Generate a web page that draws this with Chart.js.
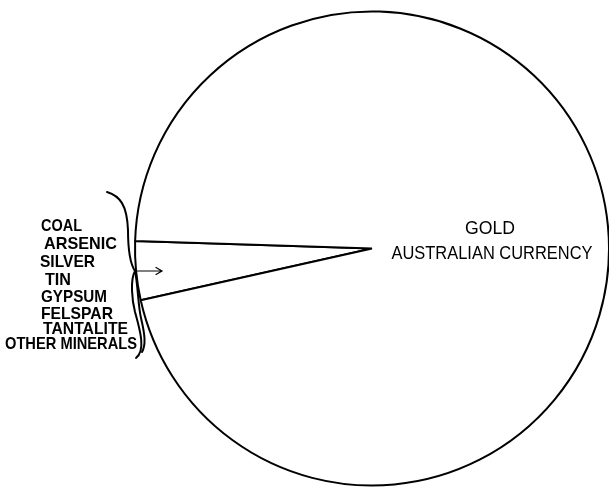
<!DOCTYPE html>
<html>
<head>
<meta charset="utf-8">
<script src="https://cdn.jsdelivr.net/npm/chart.js@4"></script>
<style>
  html, body { margin: 0; padding: 0; background: #fff; }
  #c { display: block; }
</style>
</head>
<body>
<canvas id="c" width="609" height="487"></canvas>
<script>
// ---- data ----
const categories = ["OTHER MINERALS", "GOLD"];
const values = [4, 96];
const otherMinerals = ["COAL", "ARSENIC", "SILVER", "TIN", "GYPSUM", "FELSPAR", "TANTALITE", "OTHER MINERALS"];
const goldTitle = "GOLD";
const goldSubtitle = "AUSTRALIAN CURRENCY";

// ---- annotation plugin (text, brace, arrow) ----
const labelX = [41, 44, 40, 45, 41, 41, 43, 5];
const labelY = [225, 243, 261, 279, 296, 313, 328, 343];
const labelW = [41, 73, 55, 26, 66, 72, 85, 132];

const annot = {
  id: 'annot',
  afterDraw(chart) {
    const ctx = chart.ctx;
    ctx.save();
    ctx.fillStyle = '#000';
    ctx.textBaseline = 'middle';
    // gold labels
    ctx.font = '18px "Liberation Sans", Arial, sans-serif';
    ctx.textAlign = 'center';
    ctx.fillText(goldTitle, 490, 229, 50);
    ctx.fillText(goldSubtitle, 492, 254, 201);
    // left list
    ctx.font = 'bold 17px "Liberation Sans", Arial, sans-serif';
    ctx.textAlign = 'left';
    otherMinerals.forEach((t, i) => {
      ctx.fillText(t, labelX[i], labelY[i] + 1, labelW[i]);
    });
    // brace
    ctx.strokeStyle = '#000';
    ctx.lineWidth = 2;
    ctx.lineCap = 'round';
    ctx.beginPath();
    ctx.moveTo(107, 192);
    ctx.bezierCurveTo(120, 196, 127, 205, 128, 230);
    ctx.bezierCurveTo(128, 255, 131, 265, 135, 271);
    ctx.stroke();
    ctx.beginPath();
    ctx.moveTo(135, 271);
    ctx.bezierCurveTo(130, 280, 132, 300, 135, 312);
    ctx.bezierCurveTo(140, 330, 146, 350, 136, 358);
    ctx.stroke();
    ctx.beginPath();
    ctx.moveTo(135, 271);
    ctx.bezierCurveTo(138, 285, 138, 305, 141, 318);
    ctx.bezierCurveTo(145, 335, 146, 345, 142, 352);
    ctx.stroke();
    // arrow
    ctx.lineWidth = 1.2;
    ctx.beginPath();
    ctx.moveTo(135, 271);
    ctx.lineTo(162, 271);
    ctx.moveTo(156, 267.5);
    ctx.lineTo(162, 271);
    ctx.lineTo(156, 274.5);
    ctx.stroke();
    ctx.restore();
  }
};

new Chart(document.getElementById('c'), {
  type: 'pie',
  data: {
    labels: categories,
    datasets: [{
      data: values,
      backgroundColor: '#ffffff',
      borderColor: '#000000',
      borderWidth: 2,
      borderAlign: 'center'
    }]
  },
  options: {
    responsive: false,
    animation: false,
    rotation: 257.4,
    radius: 237,
    layout: { padding: { left: 135, top: 10, right: 0, bottom: 0 } },
    plugins: {
      legend: { display: false },
      tooltip: { enabled: false }
    }
  },
  plugins: [annot]
});
</script>
</body>
</html>
